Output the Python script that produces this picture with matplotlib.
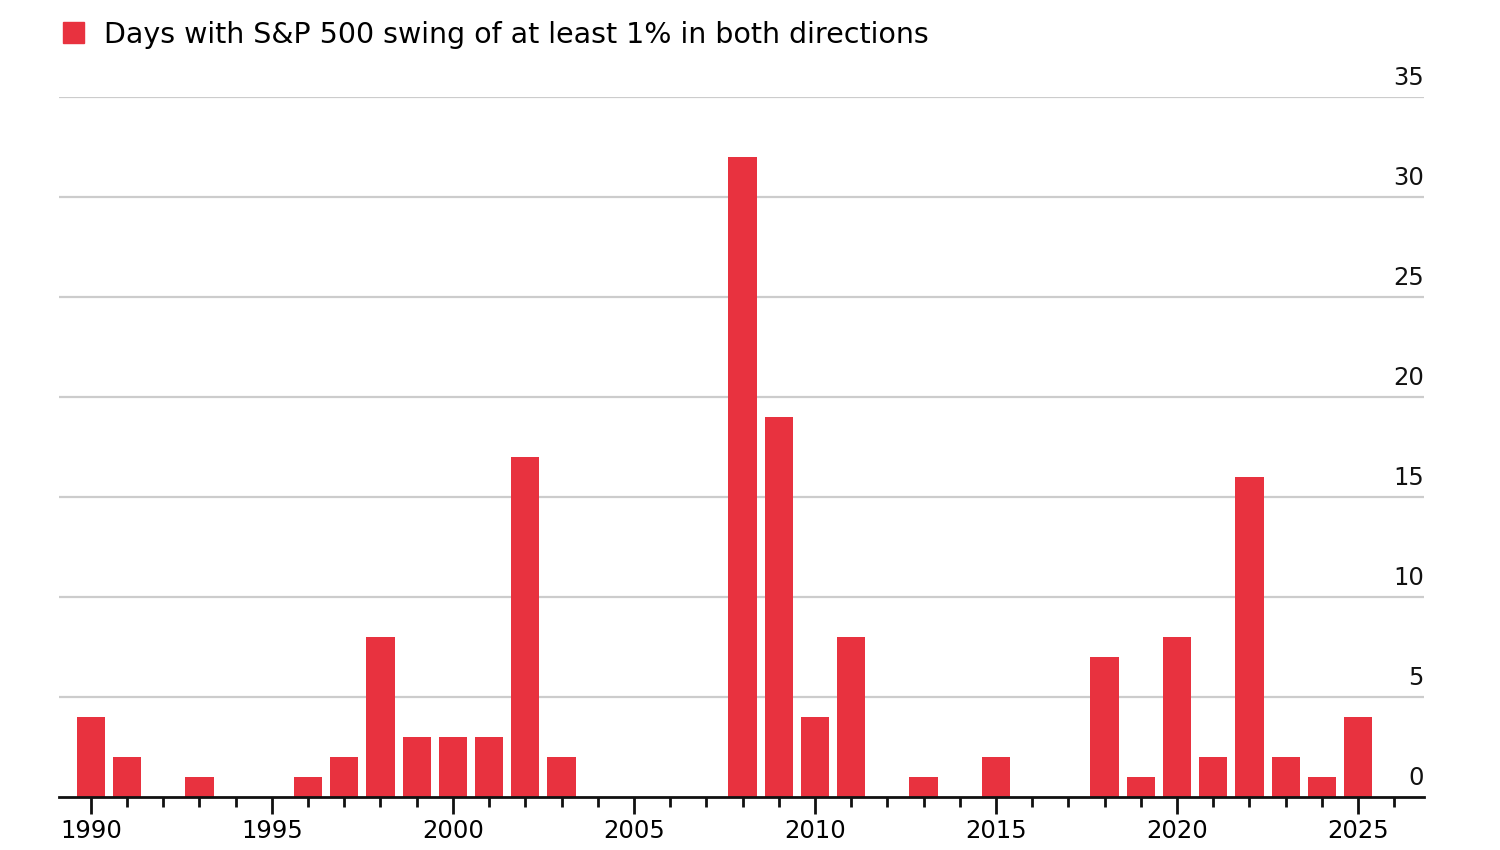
import numpy as np
import matplotlib
matplotlib.use('Agg')
import matplotlib.pyplot as plt
from matplotlib.patches import Patch
from matplotlib.ticker import MultipleLocator

plt.rcParams['font.family'] = ['DejaVu Sans']

years = list(range(1990, 2026))
days = [4, 2, 0, 1, 0, 0, 1, 2, 8, 3, 3, 3, 17, 2, 0, 0, 0, 0,
        32, 19, 4, 8, 0, 1, 0, 2, 0, 0, 7, 1, 8, 2, 16, 2, 1, 4]
label = 'Days with S&P 500 swing of at least 1% in both directions'
yticks = [0, 5, 10, 15, 20, 25, 30, 35]

red = '#e8323f'

fig = plt.figure(figsize=(15, 8.5), dpi=100)
ax = fig.add_axes([0.0393, 0.0624, 0.91, 0.8235])

ax.bar(years, days, width=0.78, color=red, zorder=3)

ax.set_xlim(1989.12, 2026.82)
ax.set_ylim(0, 35)

# grid + right-hand labels sitting above the lines
for v in yticks:
    if v > 0:
        ax.axhline(v, color='#cccccc', lw=1.6, zorder=1)
    ax.annotate(str(v), xy=(1, v), xycoords=('axes fraction', 'data'),
                xytext=(0, 5), textcoords='offset points',
                ha='right', va='bottom', fontsize=17.5, color='#111111')

ax.set_yticks([])
for s in ['top', 'right', 'left']:
    ax.spines[s].set_visible(False)
ax.spines['bottom'].set_linewidth(2)
ax.spines['bottom'].set_color('#111111')
ax.spines['bottom'].set_zorder(4)

ax.xaxis.set_major_locator(MultipleLocator(5))
ax.xaxis.set_minor_locator(MultipleLocator(1))
ax.tick_params(axis='x', which='major', length=12, width=2, color='#111111',
               labelsize=17.5, pad=4)
ax.tick_params(axis='x', which='minor', length=7, width=2, color='#111111')

fig.legend(handles=[Patch(facecolor=red, edgecolor=red)], labels=[label],
           loc='upper left', bbox_to_anchor=(0.025, 1.006), frameon=False,
           fontsize=20.5, handlelength=0.75, handleheight=0.75, handletextpad=0.7)

fig.savefig('out.png', dpi=100, facecolor='white')
